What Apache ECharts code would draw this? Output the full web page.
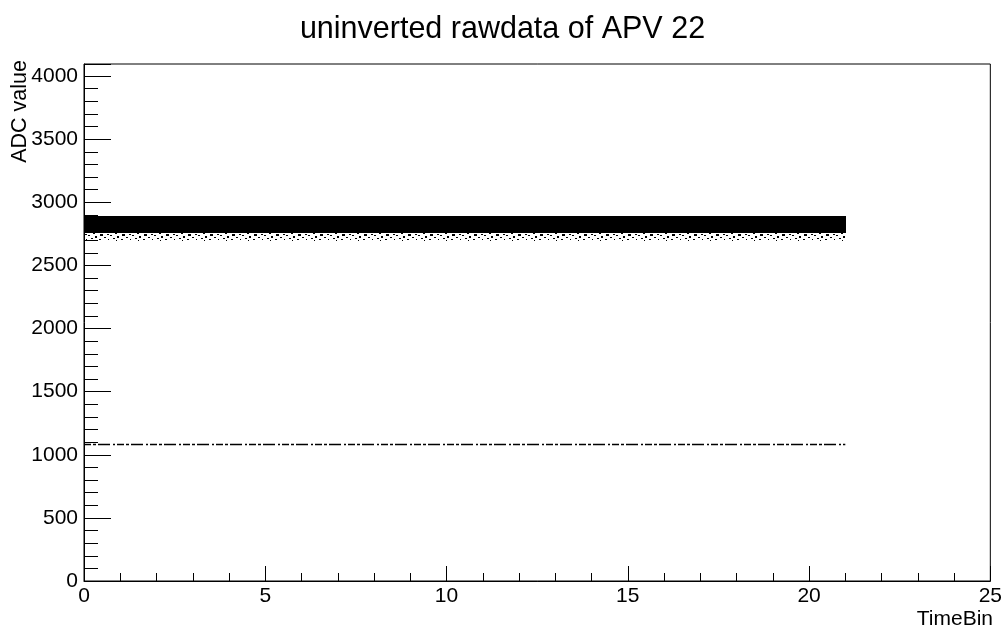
<!DOCTYPE html>
<html>
<head>
<meta charset="utf-8">
<script src="https://cdn.jsdelivr.net/npm/echarts@6/dist/echarts.min.js"></script>
<style>
html,body{margin:0;padding:0;background:#fff;}
#chart{width:1005px;height:632px;}
</style>
</head>
<body>
<div id="chart"></div>
<script>
// ---- data ----
var timeBinStarts = [0,1,2,3,4,5,6,7,8,9,10,11,12,13,14,15,16,17,18,19,20];
var bandHigh  = [2893,2893,2893,2893,2893,2893,2893,2893,2893,2893,2893,2893,2893,2893,2893,2893,2893,2893,2893,2893,2893];
var bandLow   = [2754,2754,2754,2754,2754,2754,2754,2754,2754,2754,2754,2754,2754,2754,2754,2754,2754,2754,2754,2754,2754];
var fringeLow = [2690,2685,2690,2682,2688,2684,2690,2686,2682,2688,2684,2690,2686,2683,2688,2685,2690,2684,2688,2686,2682];
var pedestalLevel = 1082;
var xTicks = [0,5,10,15,20,25];
var yTicks = [0,500,1000,1500,2000,2500,3000,3500,4000];
var yMax = 4096;

var solidData = timeBinStarts.map(function(x,i){ return [x, x+1, bandLow[i], bandHigh[i]]; });
var fringeData = timeBinStarts.map(function(x,i){ return [x, x+1, fringeLow[i], bandLow[i]]; });
var pedestalData = [[timeBinStarts[0], pedestalLevel],[timeBinStarts[timeBinStarts.length-1]+1, pedestalLevel]];

// speckle texture for the sparse fringe (fixed dot layout)
function makePattern(dots, w, h){
  var c = document.createElement('canvas'); c.width = w; c.height = h;
  var g = c.getContext('2d'); g.fillStyle = '#000';
  dots.forEach(function(d){ g.fillRect(d[0], d[1], d[2], d[3]); });
  return c;
}
var speckle = makePattern([[1,0,3,2],[9,1,2,1],[15,0,2,2],[5,2,2,1],[12,3,3,2],[0,4,2,1],[19,3,2,1],[7,5,2,2],[16,6,2,1],[3,7,2,1],[11,8,2,1],[20,8,1,1],[6,9,1,1]], 22, 11);

function rectItem(fill){
  return function(params, api){
    var p0 = api.coord([api.value(0), api.value(3)]);
    var p1 = api.coord([api.value(1), api.value(2)]);
    var x0 = Math.round(p0[0]), x1 = Math.round(p1[0]);
    var y0 = Math.round(p0[1]), y1 = Math.round(p1[1]);
    return {type:'rect', shape:{x:x0, y:y0, width:x1-x0+1, height:y1-y0}, style:{fill: fill}};
  };
}

var chart = echarts.init(document.getElementById('chart'), null, {renderer:'canvas'});
var font = 'Liberation Sans, Arial, Helvetica, sans-serif';
chart.setOption({
  animation:false,
  backgroundColor:'#fff',
  title:{text:'uninverted rawdata of APV 22', left:'center', top:9,
    textStyle:{fontFamily:font, fontSize:30.5, fontWeight:'normal', color:'#000'}},
  grid:{left:84, right:13, top:64, bottom:51, show:true, borderColor:'#000', borderWidth:1, backgroundColor:'transparent'},
  xAxis:{type:'value', min:0, max:25, interval:5,
    axisLine:{lineStyle:{color:'#000', width:1}},
    axisTick:{inside:true, length:15, lineStyle:{color:'#000'}},
    minorTick:{show:true, splitNumber:5, length:8, lineStyle:{color:'#000'}},
    splitLine:{show:false},
    axisLabel:{fontFamily:font, fontSize:21, color:'#000', margin:5,
      formatter:function(v){ return xTicks.indexOf(v)>=0 ? String(v) : ''; }}},
  yAxis:{type:'value', min:0, max:yMax, interval:500,
    axisLine:{lineStyle:{color:'#000', width:1}},
    axisTick:{inside:true, length:27, lineStyle:{color:'#000'}},
    minorTick:{show:true, splitNumber:5, length:14, lineStyle:{color:'#000'}},
    splitLine:{show:false},
    axisLabel:{fontFamily:font, fontSize:21, color:'#000', margin:6, showMaxLabel:false,
      formatter:function(v){ return yTicks.indexOf(v)>=0 ? String(v) : ''; }}},
  graphic:[
    {type:'text', x:20, y:60, rotation:Math.PI/2,
      style:{text:'ADC value', fontFamily:font, fontSize:21.5, fill:'#000', align:'right', verticalAlign:'middle'}},
    {type:'text', x:993, y:609,
      style:{text:'TimeBin', fontFamily:font, fontSize:21, fill:'#000', align:'right', verticalAlign:'top'}}
  ],
  series:[
    {type:'custom', name:'fringe', renderItem:rectItem({image:speckle, repeat:'repeat'}), data:fringeData, encode:{x:[0,1], y:[2,3]}, silent:true},
    {type:'custom', name:'band', renderItem:rectItem('#000'), data:solidData, encode:{x:[0,1], y:[2,3]}, silent:true},
    {type:'line', name:'pedestal', data:pedestalData, symbol:'none', silent:true,
      lineStyle:{color:'#000', width:1.6, type:[7,2,3,2,12,3,2,2]}}
  ]
});
</script>
</body>
</html>
